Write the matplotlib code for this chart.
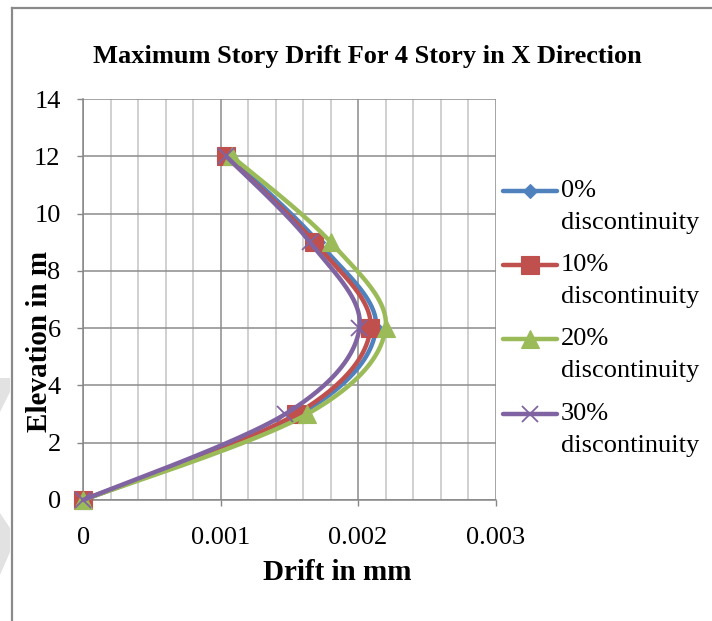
import numpy as np
import matplotlib
matplotlib.use("Agg")
import matplotlib.pyplot as plt
from matplotlib.lines import Line2D
from matplotlib.patches import Polygon

plt.rcParams['font.family'] = ['Liberation Serif', 'DejaVu Serif']

# ---------------- data ----------------
elevation = [0, 3, 6, 9, 12]
series_labels = ["0% discontinuity", "10% discontinuity", "20% discontinuity", "30% discontinuity"]
drift_0 = [0, 0.00158, 0.00213, 0.00171, 0.00106]
drift_10 = [0, 0.00155, 0.00209, 0.00168, 0.00104]
drift_20 = [0, 0.00163, 0.00220, 0.00180, 0.00108]
drift_30 = [0, 0.00147, 0.00201, 0.00165, 0.00104]
x_ticks = [0, 0.001, 0.002, 0.003]
x_tick_labels = ["0", "0.001", "0.002", "0.003"]
y_ticks = [0, 2, 4, 6, 8, 10, 12, 14]
title = "Maximum Story Drift For 4 Story in X Direction"
xlabel = "Drift in mm"
ylabel = "Elevation in m"

series = [drift_0, drift_10, drift_20, drift_30]
colors = ["#4F81BD", "#C0504D", "#9BBB59", "#8064A2"]
markers = ["D", "s", "^", "x"]
msizes = [7.5, 12.5, 12.5, 11.5]

W, H = 712, 621
fig = plt.figure(figsize=(W / 100, H / 100), dpi=100)

def fx(px):
    return px / W

def fy(py):
    return 1 - py / H

# faint background decoration at left edge
fig.add_artist(Polygon([(fx(0), fy(378)), (fx(10), fy(378)), (fx(10), fy(392)), (fx(0), fy(412))],
                       closed=True, facecolor="#e2e2e2", edgecolor="none"))
fig.add_artist(Polygon([(fx(0), fy(513)), (fx(10), fy(528)), (fx(10), fy(552)), (fx(0), fy(575))],
                       closed=True, facecolor="#e2e2e2", edgecolor="none"))

# chart border (top and left visible)
fig.add_artist(Line2D([fx(11.5), fx(712)], [fy(7.5), fy(7.5)], color="#8a8a8a", lw=1.6))
fig.add_artist(Line2D([fx(11.5), fx(11.5)], [fy(7.5), fy(621)], color="#8a8a8a", lw=1.6))

ax = fig.add_axes([fx(83.3), fy(500), fx(495.5) - fx(83.3), fy(99) - fy(500)])
ax.set_xlim(0, 0.003)
ax.set_ylim(0, 14)
ax.set_xticks(x_ticks)
ax.set_xticklabels(x_tick_labels)
ax.set_xticks(np.arange(0, 0.0030001, 0.0002), minor=True)
ax.set_yticks(y_ticks)
ax.tick_params(axis="both", which="major", labelsize=19, length=4.3, width=1.0,
               color="#868686", direction="out")
ax.tick_params(axis="y", which="major", pad=12)
ax.tick_params(axis="x", which="major", pad=15)
ax.tick_params(axis="x", which="minor", length=0)
ax.grid(True, which="major", color="#8c8c8c", lw=1.1)
ax.grid(True, which="minor", axis="x", color="#c4c4c4", lw=1.1)
ax.set_axisbelow(True)
for s in ["top", "right"]:
    ax.spines[s].set_visible(False)
for s in ["left", "bottom"]:
    ax.spines[s].set_color("#868686")
    ax.spines[s].set_linewidth(1.1)

fig.canvas.draw()

def excel_smooth(xs, ys, n=50):
    pts = ax.transData.transform(np.column_stack([xs, ys]))
    m = len(pts)
    out = []
    for i in range(m - 1):
        p0 = pts[max(i - 1, 0)]
        p1 = pts[i]
        p2 = pts[i + 1]
        p3 = pts[min(i + 2, m - 1)]
        c1 = p1 + (p2 - p0) / 6.0
        c2 = p2 - (p3 - p1) / 6.0
        t = np.linspace(0, 1, n)[:, None]
        seg = ((1 - t) ** 3) * p1 + 3 * ((1 - t) ** 2) * t * c1 + 3 * (1 - t) * t ** 2 * c2 + t ** 3 * p2
        out.append(seg if i == 0 else seg[1:])
    curve = np.vstack(out)
    data = ax.transData.inverted().transform(curve)
    return data[:, 0], data[:, 1]

LW = 3.2
for k, (vals, c, mk, ms) in enumerate(zip(series, colors, markers, msizes)):
    sx, sy = excel_smooth(vals, elevation)
    ax.plot(sx, sy, color=c, lw=LW, solid_capstyle="round", zorder=3 + k, clip_on=False)
    mew = 1.3 if mk == "x" else 0.8
    ax.plot(vals, elevation, linestyle="none", marker=mk, markersize=ms,
            color=c, markeredgecolor=c, markeredgewidth=mew, zorder=3 + k, clip_on=False)

# title and axis labels
fig.text(fx(367), fy(57), title, ha="center", va="center", fontsize=19, fontweight="bold")
fig.text(fx(337), fy(573), xlabel, ha="center", va="center", fontsize=21, fontweight="bold")
fig.text(fx(40), fy(341), ylabel, ha="center", va="center", rotation=90, fontsize=21, fontweight="bold")

# legend
leg_y = [191, 265, 339, 414]
for lab, c, mk, ms, yy in zip(series_labels, colors, markers, msizes, leg_y):
    fig.add_artist(Line2D([fx(503), fx(557)], [fy(yy), fy(yy)], color=c, lw=LW,
                          solid_capstyle="round"))
    mew = 1.3 if mk == "x" else 0.8
    fig.add_artist(Line2D([fx(530)], [fy(yy)], linestyle="none", marker=mk, markersize=ms,
                          color=c, markeredgecolor=c, markeredgewidth=mew))
    first, second = lab.split(" ", 1)
    fig.text(fx(561), fy(yy), first, ha="left", va="center", fontsize=19)
    fig.text(fx(561), fy(yy + 32), second, ha="left", va="center", fontsize=19)

fig.savefig("out.png", dpi=100)
